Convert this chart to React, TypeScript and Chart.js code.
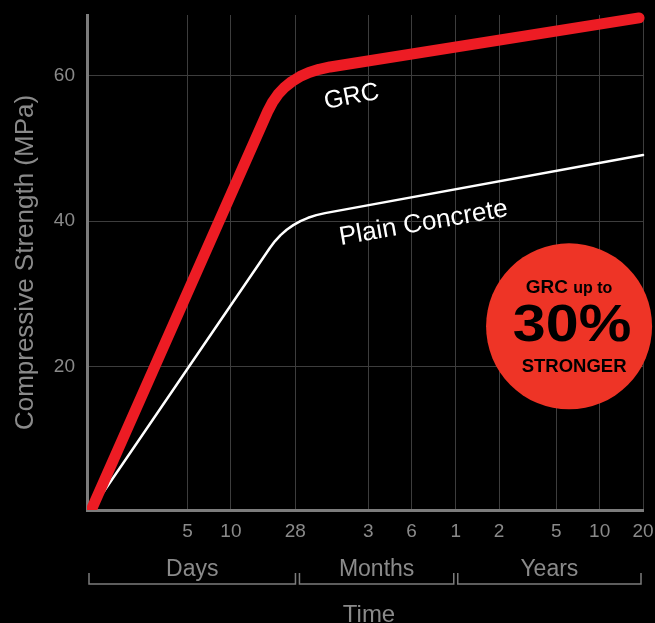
import React, { useEffect, useRef } from "react";
import { Chart, registerables } from "chart.js";

Chart.register(...registerables);

// ---- data ----
const tickDays = [5, 10, 28, 90, 180, 365, 730, 1825, 3650, 7300];
const tickLabels = ["5", "10", "28", "3", "6", "1", "2", "5", "10", "20"];
const yTickValues = [20, 40, 60];

const grcDays = [1.07, 18.1, 19.48, 21.25, 23.54, 26.46, 30.17, 34.88, 41.0, 48.84, 6850];
const grcStrength = [0.2, 55.2, 56.39, 57.47, 58.4, 59.22, 59.91, 60.48, 60.92, 61.24, 68.0];

const plainDays = [1.07, 18.69, 20.26, 22.13, 24.4, 27.13, 30.4, 34.37, 39.2, 45.08, 7300];
const plainStrength = [0.2, 36.34, 37.25, 38.08, 38.82, 39.45, 40.0, 40.46, 40.83, 41.1, 49.1];

const groupNames = ["Days", "Months", "Years"];
const groupBounds = [1, 29, 365, 7300];

const seriesLabels = ["GRC", "Plain Concrete"];
const labelDays = [69, 218];
const labelStrength = [57.1, 39.7];
const labelAngles = [-11, -9.8];

const badgeDay = 2237;
const badgeStrength = 25.5;
const badgeLines = ["GRC", "up to", "30%", "STRONGER"];

const FONT = "'Liberation Sans', Arial, Helvetica, sans-serif";
const GRAY = "#8a8a8a";
const AXIS = "#7c7c7c";
const GRID = "#3d3d3d";

const decor = {
  id: "decor",
  beforeDraw(chart: any) {
    const { ctx, width, height } = chart;
    ctx.save();
    ctx.fillStyle = "#000";
    ctx.fillRect(0, 0, width, height);
    ctx.restore();
  },
  afterDraw(chart: any) {
    const ctx = chart.ctx;
    const xs = chart.scales.x;
    const ys = chart.scales.y;
    ctx.save();

    // series labels
    ctx.fillStyle = "#fff";
    ctx.textAlign = "center";
    ctx.textBaseline = "middle";
    seriesLabels.forEach((t, i) => {
      ctx.save();
      ctx.translate(xs.getPixelForValue(labelDays[i]), ys.getPixelForValue(labelStrength[i]));
      ctx.rotate((labelAngles[i] * Math.PI) / 180);
      ctx.font = `${i === 0 ? 25 : 26}px ${FONT}`;
      ctx.fillText(t, 0, 0);
      ctx.restore();
    });

    // badge
    const bx = xs.getPixelForValue(badgeDay);
    const by = ys.getPixelForValue(badgeStrength);
    ctx.beginPath();
    ctx.arc(bx, by, 83, 0, Math.PI * 2);
    ctx.fillStyle = "#ee3426";
    ctx.fill();
    ctx.fillStyle = "#000";
    ctx.textBaseline = "alphabetic";
    ctx.textAlign = "left";
    ctx.font = `bold 19px ${FONT}`;
    const w1 = ctx.measureText(badgeLines[0] + " ").width;
    ctx.font = `bold 16px ${FONT}`;
    const w2 = ctx.measureText(badgeLines[1]).width;
    const sx = bx - (w1 + w2) / 2;
    ctx.font = `bold 19px ${FONT}`;
    ctx.fillText(badgeLines[0] + " ", sx, by - 33);
    ctx.font = `bold 16px ${FONT}`;
    ctx.fillText(badgeLines[1], sx + w1, by - 33);
    ctx.textAlign = "center";
    ctx.save();
    ctx.translate(bx + 3, by + 15);
    ctx.scale(1.16, 1);
    ctx.font = `bold 51px ${FONT}`;
    ctx.fillText(badgeLines[2], 0, 0);
    ctx.restore();
    ctx.font = `bold 18.5px ${FONT}`;
    ctx.fillText(badgeLines[3], bx + 5, by + 46);

    // group brackets under x axis
    const top = xs.top;
    ctx.strokeStyle = AXIS;
    ctx.lineWidth = 1.5;
    ctx.fillStyle = GRAY;
    ctx.font = `23px ${FONT}`;
    ctx.textAlign = "center";
    ctx.textBaseline = "alphabetic";
    for (let i = 0; i < groupNames.length; i++) {
      const a = xs.getPixelForValue(groupBounds[i]) + 2;
      const b = xs.getPixelForValue(groupBounds[i + 1]) - 2;
      ctx.beginPath();
      ctx.moveTo(a, top + 63);
      ctx.lineTo(a, top + 74);
      ctx.lineTo(b, top + 74);
      ctx.lineTo(b, top + 63);
      ctx.stroke();
      ctx.fillText(groupNames[i], (a + b) / 2, top + 66);
    }

    // x axis title
    ctx.font = `24px ${FONT}`;
    ctx.fillText("Time", (chart.chartArea.left + chart.chartArea.right) / 2 + 4, top + 111.5);
    ctx.restore();
  },
};

export default function App() {
  const ref = useRef<HTMLCanvasElement | null>(null);
  useEffect(() => {
    document.body.style.margin = "0";
    document.body.style.background = "#000";
    const canvas = ref.current;
    if (!canvas) return;
    const chart = new Chart(canvas, {
      type: "line",
      data: {
        datasets: [
          {
            label: seriesLabels[0],
            data: grcDays.map((d, i) => ({ x: d, y: grcStrength[i] })),
            borderColor: "#ed1c24",
            borderWidth: 11,
            borderCapStyle: "round",
            borderJoinStyle: "round",
            pointRadius: 0,
            tension: 0,
            clip: { left: 0, bottom: 0, top: 10, right: 10 },
          } as any,
          {
            label: seriesLabels[1],
            data: plainDays.map((d, i) => ({ x: d, y: plainStrength[i] })),
            borderColor: "#ffffff",
            borderWidth: 2.5,
            borderCapStyle: "round",
            borderJoinStyle: "round",
            pointRadius: 0,
            tension: 0,
            clip: { left: 0, bottom: 0, top: 10, right: 10 },
          } as any,
        ],
      },
      options: {
        animation: false,
        responsive: false,
        events: [],
        layout: { padding: { top: 15, right: 12, left: 0, bottom: 0 } },
        plugins: { legend: { display: false }, tooltip: { enabled: false } },
        scales: {
          x: {
            type: "logarithmic",
            min: 1,
            max: 7300,
            afterBuildTicks: (s: any) => {
              s.ticks = tickDays.map((v) => ({ value: v }));
            },
            afterFit: (s: any) => {
              s.height = 113;
              s.paddingLeft = 0;
              s.paddingRight = 0;
            },
            grid: { color: GRID, lineWidth: 1, drawTicks: false },
            border: { color: AXIS, width: 3 },
            ticks: {
              color: GRAY,
              font: { family: FONT, size: 19 },
              padding: 10,
              autoSkip: false,
              maxRotation: 0,
              minRotation: 0,
              callback: (_v: any, i: number) => tickLabels[i],
            },
          },
          y: {
            type: "linear",
            min: 0.2,
            max: 68.4,
            afterBuildTicks: (s: any) => {
              s.ticks = yTickValues.map((v) => ({ value: v }));
            },
            afterFit: (s: any) => {
              s.width = 87;
              s.paddingTop = 0;
              s.paddingBottom = 0;
            },
            grid: { color: GRID, lineWidth: 1, drawTicks: false },
            border: { color: AXIS, width: 3 },
            ticks: {
              color: GRAY,
              font: { family: FONT, size: 19 },
              padding: 12,
            },
            title: {
              display: true,
              text: "Compressive Strength (MPa)",
              color: GRAY,
              font: { family: FONT, size: 26 },
              padding: { top: 10, bottom: 0 },
            },
          },
        },
      } as any,
      plugins: [decor],
    });
    return () => chart.destroy();
  }, []);
  return (
    <div style={{ width: 655, height: 623, background: "#000" }}>
      <canvas ref={ref} width={655} height={623} />
    </div>
  );
}
